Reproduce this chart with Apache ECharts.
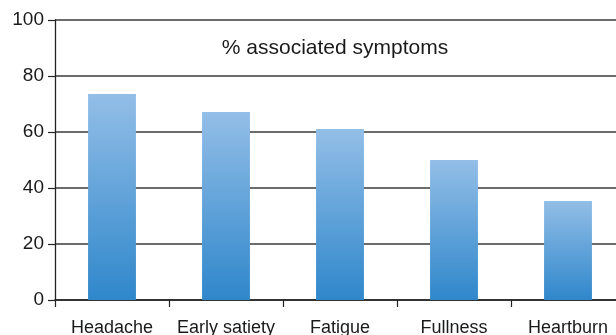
<!DOCTYPE html>
<html>
<head>
<meta charset="utf-8">
<script src="https://cdn.jsdelivr.net/npm/echarts@6/dist/echarts.min.js"></script>
<style>
  html, body { margin: 0; padding: 0; background: #fff; }
  #chart { width: 616px; height: 335px; }
</style>
</head>
<body>
<div id="chart"></div>
<script>
// Symptom categories and the share of patients reporting each one (%)
const categories = ['Headache', 'Early satiety', 'Fatigue', 'Fullness', 'Heartburn'];
const percentages = [73.6, 67.1, 61.1, 50, 35.4];
const yTicks = [0, 20, 40, 60, 80, 100];

const chart = echarts.init(document.getElementById('chart'), null, { renderer: 'canvas' });
const font = 'Helvetica, "Liberation Sans", Arial, sans-serif';

chart.setOption({
  animation: false,
  backgroundColor: '#fff',
  title: {
    text: '% associated symptoms',
    left: 330,
    top: 33,
    textAlign: 'center',
    textStyle: { fontFamily: font, fontSize: 21, fontWeight: 'normal', color: '#1a1a1a' }
  },
  // plot area runs a little past the right edge of the canvas
  grid: { left: 55, top: 20, width: 570, height: 280, containLabel: false, outerBoundsMode: 'none' },
  xAxis: {
    type: 'category',
    data: categories,
    boundaryGap: true,
    axisLine: { show: true, lineStyle: { color: '#222', width: 1.5 } },
    axisTick: { show: true, alignWithLabel: false, length: 7, lineStyle: { color: '#222', width: 1.2 } },
    axisLabel: { margin: 19, fontFamily: font, fontSize: 18, color: '#1a1a1a', interval: 0 }
  },
  yAxis: {
    type: 'value',
    min: yTicks[0],
    max: yTicks[yTicks.length - 1],
    interval: yTicks[1] - yTicks[0],
    axisLine: { show: true, lineStyle: { color: '#222', width: 1.3 } },
    axisTick: { show: true, length: 7, lineStyle: { color: '#222', width: 1.2 } },
    axisLabel: { margin: 11, fontFamily: font, fontSize: 19, color: '#1a1a1a' },
    splitLine: { show: true, lineStyle: { color: '#3a3a3a', width: 1.5 } }
  },
  series: [{
    type: 'bar',
    data: percentages,
    barWidth: '42%',
    barCategoryGap: '58%',
    itemStyle: {
      color: new echarts.graphic.LinearGradient(0, 0, 0, 1, [
        { offset: 0, color: '#93bee7' },
        { offset: 1, color: '#2f87cb' }
      ])
    }
  }]
});
</script>
</body>
</html>
